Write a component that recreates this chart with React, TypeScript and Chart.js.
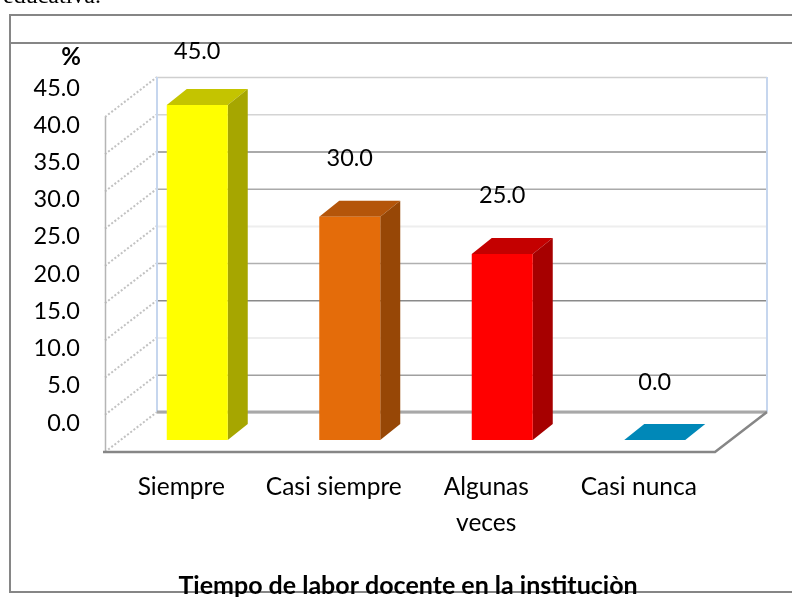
import React, { useEffect, useRef } from "react";
import { Chart, registerables } from "chart.js";

Chart.register(...registerables);

const categories = ["Siempre", "Casi siempre", ["Algunas", "veces"], "Casi nunca"];
const values = [45, 30, 25, 0];
const frontColors = ["#FFFF00", "#E46C0A", "#FF0000", "#0088B8"];
const sideColors = ["#A6A600", "#974706", "#A60000", "#005A7A"];
const topColors = ["#C4C400", "#B4550A", "#C40000", "#0088B8"];
const yTicks = [0, 5, 10, 15, 20, 25, 30, 35, 40, 45];
const gridColors = ["#a8a8a8", "#a0a0a0", "#eeeeee", "#8a8a8a", "#b0b0b0", "#eeeeee", "#aaaaaa", "#8e8e8e", "#d4d4d4", "#cfcfcf"];
const xTitle = "Tiempo de labor docente en la instituciòn";
const yTitle = "%";
const clippedCaption = "educativa.";

const FONT = "Lato";

const depthPlugin = {
  id: "depth",
  beforeDatasetsDraw(chart: any) {
    const { ctx, scales, chartArea } = chart;
    const y = scales.y;
    ctx.save();
    // frame
    ctx.strokeStyle = "#868686";
    ctx.lineWidth = 2;
    ctx.beginPath();
    ctx.moveTo(792, 15); ctx.lineTo(10, 15); ctx.lineTo(10, 592); ctx.lineTo(792, 592);
    ctx.moveTo(10, 43); ctx.lineTo(792, 43);
    ctx.stroke();

    const fl = chartArea.left - 16, fr = chartArea.right - 16;
    const bl = fl + 52, br = fr + 52;
    // back wall gridlines & side wall
    yTicks.forEach((v, i) => {
      const py = y.getPixelForValue(v);
      const back = py - 28;
      ctx.strokeStyle = gridColors[i];
      ctx.lineWidth = gridColors[i] === "#eeeeee" ? 2 : 1.5;
      ctx.beginPath();
      ctx.moveTo(bl, back + 0.5); ctx.lineTo(br, back + 0.5);
      ctx.stroke();
      ctx.strokeStyle = "#c2c2c2";
      ctx.lineWidth = 2;
      ctx.setLineDash([2, 2]);
      ctx.beginPath();
      ctx.moveTo(fl, py + 12); ctx.lineTo(bl, back);
      ctx.stroke();
      ctx.setLineDash([]);
    });
    const top45 = y.getPixelForValue(45);
    const zero = y.getPixelForValue(0);
    ctx.strokeStyle = "#c6d6ee";
    ctx.lineWidth = 2;
    ctx.beginPath();
    ctx.moveTo(bl, top45 - 28); ctx.lineTo(bl, zero - 28);
    ctx.moveTo(br, top45 - 28); ctx.lineTo(br, zero - 28);
    ctx.stroke();
    ctx.strokeStyle = "#b5b5b5";
    ctx.lineWidth = 1.5;
    ctx.beginPath();
    ctx.moveTo(fl + 0.5, top45 + 12); ctx.lineTo(fl + 0.5, zero + 12);
    ctx.stroke();
    // floor
    ctx.strokeStyle = "#a8a8a8";
    ctx.lineWidth = 3;
    ctx.beginPath();
    ctx.moveTo(bl, zero - 28); ctx.lineTo(br, zero - 28);
    ctx.stroke();
    ctx.strokeStyle = "#868686";
    ctx.lineWidth = 2.5;
    ctx.beginPath();
    ctx.moveTo(fl - 2, zero + 12); ctx.lineTo(fr, zero + 12); ctx.lineTo(br, zero - 28);
    ctx.stroke();
    // bar depth
    const meta = chart.getDatasetMeta(0);
    meta.data.forEach((bar: any, i: number) => {
      const x0 = bar.x - bar.width / 2, x1 = bar.x + bar.width / 2;
      const dx = 20, dy = 16;
      ctx.fillStyle = topColors[i];
      ctx.beginPath();
      ctx.moveTo(x0, bar.y); ctx.lineTo(x1, bar.y); ctx.lineTo(x1 + dx, bar.y - dy); ctx.lineTo(x0 + dx, bar.y - dy);
      ctx.closePath(); ctx.fill();
      if (bar.base - bar.y > 0) {
        ctx.fillStyle = sideColors[i];
        ctx.beginPath();
        ctx.moveTo(x1, bar.y); ctx.lineTo(x1 + dx, bar.y - dy); ctx.lineTo(x1 + dx, bar.base - dy); ctx.lineTo(x1, bar.base);
        ctx.closePath(); ctx.fill();
      }
    });
    ctx.restore();
  },
  afterDraw(chart: any) {
    const { ctx, chartArea } = chart;
    const meta = chart.getDatasetMeta(0);
    ctx.save();
    ctx.fillStyle = "#000";
    ctx.textAlign = "center";
    ctx.textBaseline = "middle";
    ctx.font = `23.5px ${FONT}`;
    meta.data.forEach((bar: any, i: number) => {
      ctx.fillText(values[i].toFixed(1), bar.x, Math.max(bar.y - 58, 51));
    });
    ctx.font = `bold 24px ${FONT}`;
    ctx.fillText(yTitle, 71, 57);
    ctx.font = `bold 25px ${FONT}`;
    ctx.fillText(xTitle, (chartArea.left + chartArea.right) / 2 - 18, 586);
    ctx.textAlign = "left";
    ctx.textBaseline = "alphabetic";
    ctx.font = `24px "Liberation Serif"`;
    ctx.fillText(clippedCaption, 3, 3);
    ctx.restore();
  },
};

export default function App() {
  const ref = useRef<HTMLCanvasElement>(null);
  useEffect(() => {
    if (!ref.current) return;
    const chart = new Chart(ref.current, {
      type: "bar",
      data: {
        labels: categories as any,
        datasets: [
          {
            data: values,
            backgroundColor: frontColors,
            barPercentage: 0.4,
            categoryPercentage: 1,
          },
        ],
      },
      options: {
        responsive: false,
        animation: false,
        layout: { padding: { top: 105, right: 61, left: 0, bottom: 0 } },
        plugins: { legend: { display: false }, tooltip: { enabled: false } },
        scales: {
          x: {
            grid: { display: false, drawTicks: false },
            border: { display: false },
            afterFit: (s: any) => { s.height = 157; },
            ticks: {
              color: "#000",
              font: { family: FONT, size: 24.5, lineHeight: 1.47 },
              padding: 29,
              labelOffset: -16,
              maxRotation: 0,
              autoSkip: false,
            },
          },
          y: {
            min: 0,
            max: 45,
            grid: { display: false, drawTicks: false },
            border: { display: false },
            afterFit: (s: any) => { s.width = 121; },
            afterBuildTicks: (s: any) => { s.ticks = yTicks.map((value) => ({ value })); },
            ticks: {
              color: "#000",
              font: { family: FONT, size: 23.5 },
              padding: 41,
              labelOffset: -17,
              callback: (v: any) => Number(v).toFixed(1),
            },
          },
        },
      },
      plugins: [depthPlugin],
    } as any);
    return () => chart.destroy();
  }, []);
  return (
    <div style={{ position: "absolute", left: 0, top: 0, width: 792, height: 597, background: "#fff" }}>
      <canvas ref={ref} width={792} height={597} style={{ display: "block" }} />
    </div>
  );
}
